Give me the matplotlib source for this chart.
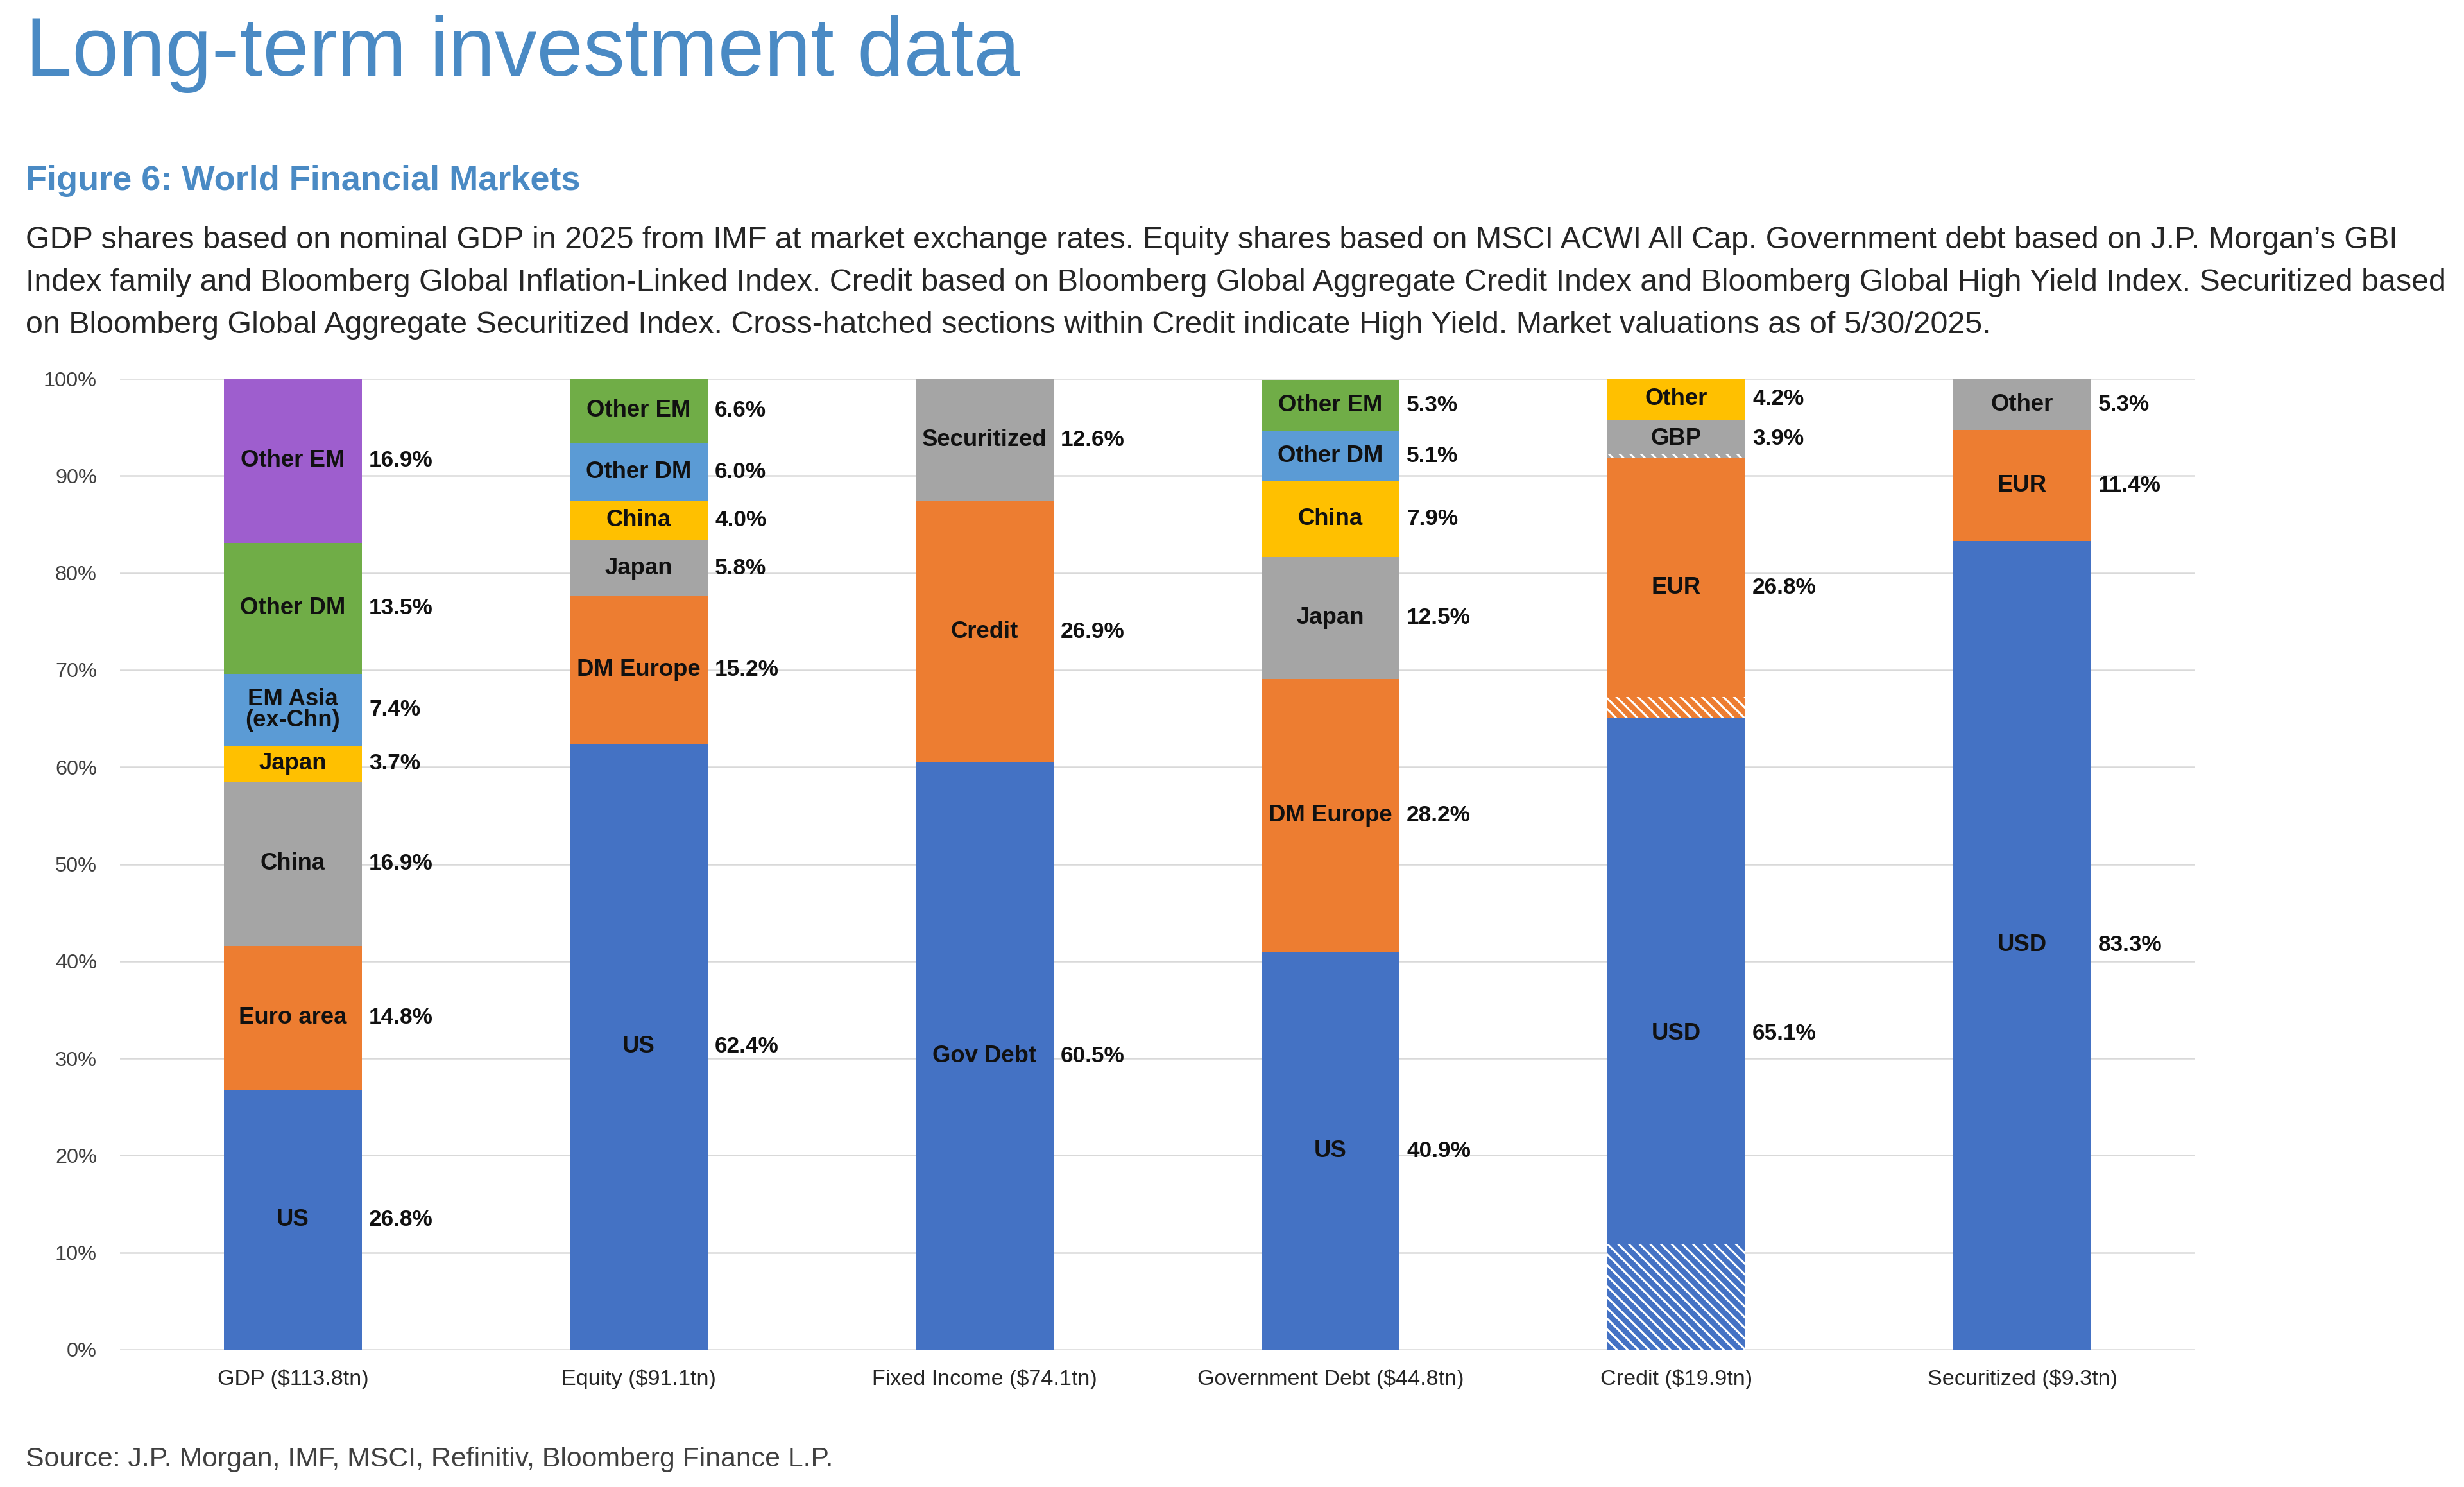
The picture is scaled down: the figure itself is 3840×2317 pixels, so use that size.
import numpy as np
import matplotlib.pyplot as plt
from matplotlib import font_manager

installed = {f.name for f in font_manager.fontManager.ttflist}
HAS_NARROW = 'Liberation Sans Narrow' in installed
NARROW = 'Liberation Sans Narrow' if HAS_NARROW else 'Liberation Sans'
NF = 1.0 if HAS_NARROW else 0.82  # shrink sizes if no condensed face

plt.rcParams['font.family'] = ['Liberation Sans', 'DejaVu Sans']
plt.rcParams['hatch.linewidth'] = 2.2

# ---- data (percent shares) ----
categories = ['GDP ($113.8tn)', 'Equity ($91.1tn)', 'Fixed Income ($74.1tn)',
              'Government Debt ($44.8tn)', 'Credit ($19.9tn)', 'Securitized ($9.3tn)']

gdp_labels = ['US', 'Euro area', 'China', 'Japan', 'EM Asia\n(ex-Chn)', 'Other DM', 'Other EM']
gdp_values = [26.8, 14.8, 16.9, 3.7, 7.4, 13.5, 16.9]

equity_labels = ['US', 'DM Europe', 'Japan', 'China', 'Other DM', 'Other EM']
equity_values = [62.4, 15.2, 5.8, 4.0, 6.0, 6.6]

fi_labels = ['Gov Debt', 'Credit', 'Securitized']
fi_values = [60.5, 26.9, 12.6]

gov_labels = ['US', 'DM Europe', 'Japan', 'China', 'Other DM', 'Other EM']
gov_values = [40.9, 28.2, 12.5, 7.9, 5.1, 5.3]

credit_labels = ['USD', 'EUR', 'GBP', 'Other']
credit_values = [65.1, 26.8, 3.9, 4.2]
credit_high_yield = [10.9, 2.1, 0.3, 0.0]   # cross-hatched part of each segment

sec_labels = ['USD', 'EUR', 'Other']
sec_values = [83.3, 11.4, 5.3]

stacks = [
    (gdp_labels, gdp_values, None),
    (equity_labels, equity_values, None),
    (fi_labels, fi_values, None),
    (gov_labels, gov_values, None),
    (credit_labels, credit_values, credit_high_yield),
    (sec_labels, sec_values, None),
]

palette = ['#4472C4', '#ED7D31', '#A5A5A5', '#FFC000', '#5B9BD5', '#70AD47', '#9E5ECE']
TITLE_BLUE = '#4A8AC4'

W, H = 3840, 2317
fig = plt.figure(figsize=(W / 100, H / 100), dpi=100)

def fx(px):
    return px / W

def fy(py):
    return 1 - py / H

fig.text(fx(40), fy(118), 'Long-term investment data', fontsize=93.8, color=TITLE_BLUE,
         va='baseline', ha='left')
fig.text(fx(40), fy(296), 'Figure 6: World Financial Markets', fontsize=39,
         fontweight='bold', color=TITLE_BLUE, va='baseline', ha='left')

desc = [
    'GDP shares based on nominal GDP in 2025 from IMF at market exchange rates. Equity shares based on MSCI ACWI All Cap. Government debt based on J.P. Morgan\u2019s GBI',
    'Index family and Bloomberg Global Inflation-Linked Index. Credit based on Bloomberg Global Aggregate Credit Index and Bloomberg Global High Yield Index. Securitized based',
    'on Bloomberg Global Aggregate Securitized Index. Cross-hatched sections within Credit indicate High Yield. Market valuations as of 5/30/2025.',
]
for k, line in enumerate(desc):
    fig.text(fx(40), fy(387 + 66 * k), line, fontsize=34.8, color='#262626',
             va='baseline', ha='left')

fig.text(fx(40), fy(2285), 'Source: J.P. Morgan, IMF, MSCI, Refinitiv, Bloomberg Finance L.P.',
         fontsize=30.8, color='#404040', va='baseline', ha='left')

ax = fig.add_axes([fx(187), fy(2103), fx(3421 - 187), (2103 - 590) / H])

bw = 0.4
for i, (labels, values, hy) in enumerate(stacks):
    bottom = 0.0
    for j, (lab, val) in enumerate(zip(labels, values)):
        col = palette[j]
        if hy is not None and hy[j] > 0:
            ax.bar(i, hy[j], bw, bottom=bottom, color=col, edgecolor='white',
                   linewidth=0, hatch='\\\\', zorder=3)
            ax.bar(i, val - hy[j], bw, bottom=bottom + hy[j], color=col,
                   linewidth=0, zorder=3)
        else:
            ax.bar(i, val, bw, bottom=bottom, color=col, linewidth=0, zorder=3)
        mid = bottom + val / 2
        ax.text(i, mid, lab, ha='center', va='center', fontsize=32 * NF,
                family=NARROW, fontweight='bold', color='#111111', zorder=4,
                linespacing=0.95)
        ax.text(i + bw / 2 + 0.02, mid, f'{val:.1f}%', ha='left', va='center',
                fontsize=31 * NF, family=NARROW, fontweight='bold',
                color='#111111', zorder=4)
        bottom += val

ax.set_xlim(-0.5, len(categories) - 0.5)
ax.set_ylim(0, 100)
ax.set_yticks(np.arange(0, 101, 10))
ax.set_yticklabels([f'{v}%' for v in range(0, 101, 10)], family=NARROW,
                   fontsize=28.5 * NF, color='#404040')
ax.set_xticks(range(len(categories)))
ax.set_xticklabels(categories, family=NARROW, fontsize=30 * NF, color='#262626')
ax.tick_params(axis='y', length=0, pad=26)
ax.tick_params(axis='x', length=0, pad=22)
ax.yaxis.grid(True, color='#D9D9D9', linewidth=1.8, zorder=0)
ax.set_axisbelow(True)
for s in ax.spines.values():
    s.set_visible(False)

fig.savefig('out.png', dpi=100, facecolor='white')
